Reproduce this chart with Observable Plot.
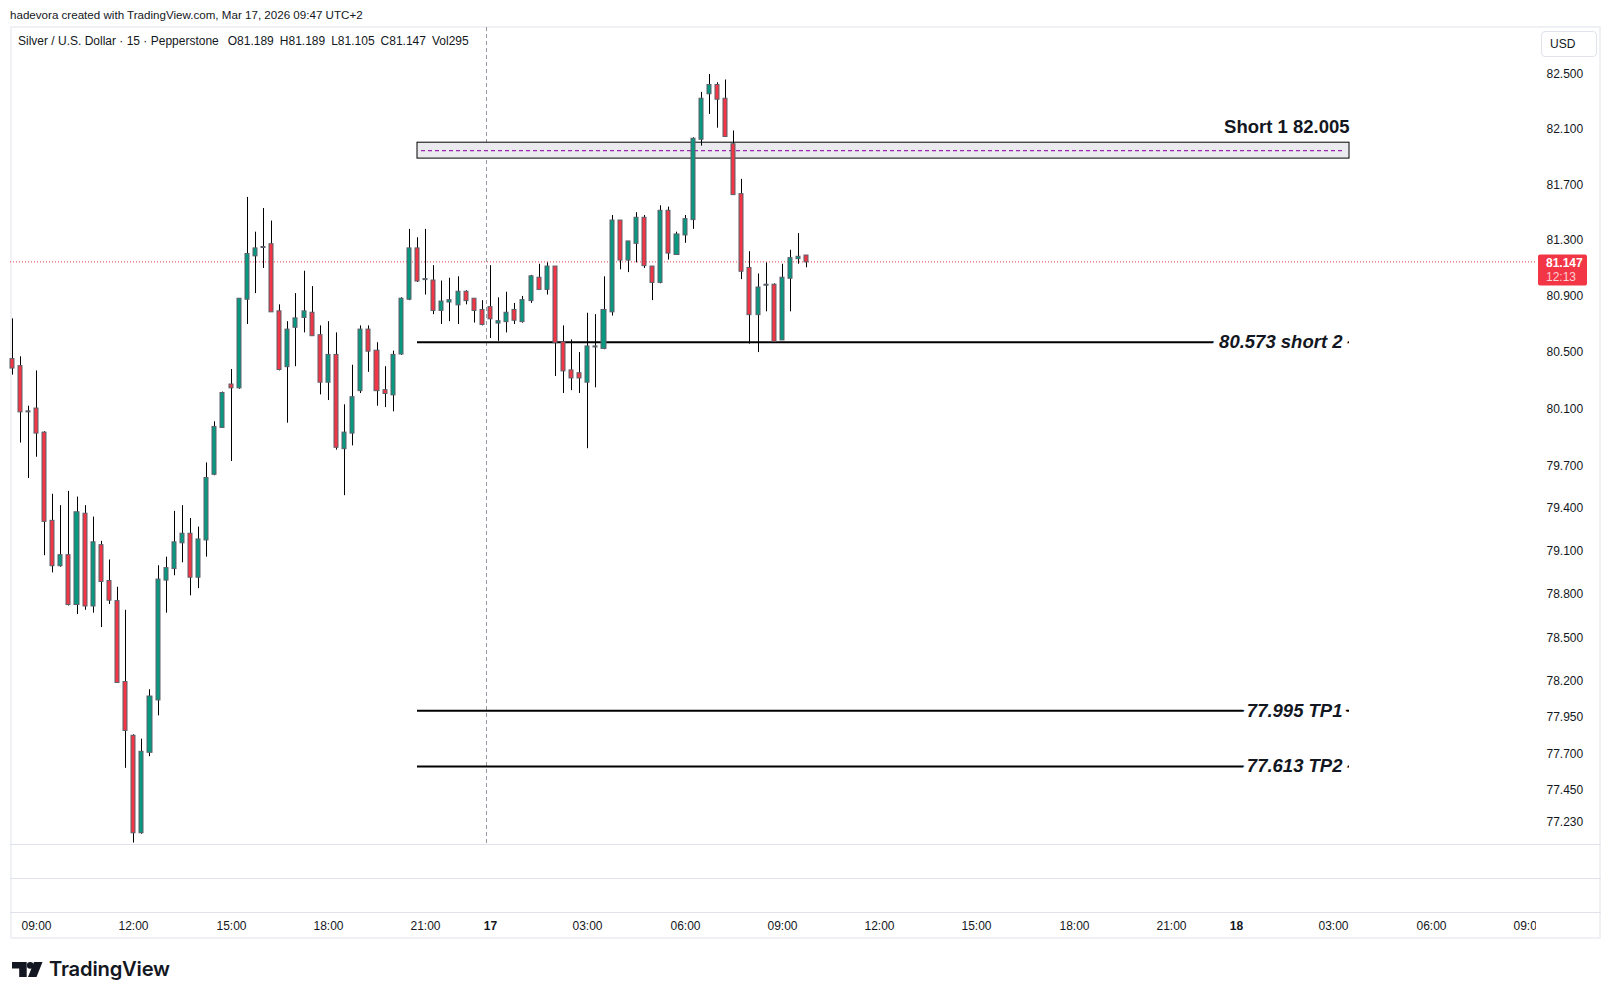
<!DOCTYPE html>
<html>
<head>
<meta charset="utf-8">
<script src="https://cdn.jsdelivr.net/npm/d3@7"></script>
<script src="https://cdn.jsdelivr.net/npm/@observablehq/plot@0.6"></script>
<style>
html,body{margin:0;padding:0;background:#fff;}
#wrap{position:relative;width:1611px;height:1000px;overflow:hidden;font-family:"Liberation Sans",Arial,sans-serif;color:#131722;}
#wrap > svg.plot{position:absolute;left:0;top:0;}
.abs{position:absolute;white-space:nowrap;}
.hl{position:absolute;left:10px;width:1591px;height:1px;background:#e0e3eb;}
</style>
</head>
<body>
<div id="wrap">
  <div class="abs" style="left:10px;top:26px;width:1591px;height:913px;box-sizing:border-box;border:2px solid #eff1f5;"></div>
  <div class="hl" style="top:844px"></div>
  <div class="hl" style="top:878px"></div>
  <div class="hl" style="top:912px"></div>
</div>
<script>
// ---- Data (15-minute candles, Silver / U.S. Dollar, Pepperstone) ----
const opens  = [80.45,80.40,80.08,80.10,79.93,79.31,79.00,79.07,78.73,79.36,78.72,79.14,78.89,78.75,78.19,77.82,77.16,77.71,78.07,78.90,78.98,79.16,79.22,78.92,79.18,79.64,79.97,80.27,80.25,80.88,81.19,81.25,81.27,80.79,80.40,80.68,80.75,80.78,80.62,80.29,80.48,79.82,79.93,80.23,80.66,80.51,80.23,80.20,80.49,80.88,81.24,81.02,81.01,80.80,80.86,80.84,80.93,80.88,80.80,80.82,80.71,80.72,80.80,80.72,80.87,81.03,80.95,81.11,80.57,80.37,80.35,80.29,80.54,80.53,80.79,81.44,81.16,81.28,81.46,81.11,81.00,81.51,81.20,81.34,81.45,82.03,82.36,82.42,82.32,81.99,81.63,81.10,80.77,80.98,80.98,80.59,81.03,81.17,81.189];
const highs  = [80.74,80.47,80.12,80.37,79.94,79.50,79.42,79.52,79.48,79.42,79.34,79.17,79.04,78.85,78.69,77.83,77.80,78.14,79.00,79.06,79.38,79.42,79.33,79.27,79.72,80.01,80.22,80.38,80.88,81.61,81.36,81.53,81.44,80.84,80.72,80.92,81.08,80.97,80.69,80.72,80.64,80.13,80.41,80.69,80.69,80.57,80.40,80.51,80.89,81.38,81.32,81.38,81.12,81.01,81.03,81.04,80.94,80.88,80.87,81.12,80.89,80.93,80.85,80.90,81.05,81.13,81.14,81.11,80.69,80.59,80.50,80.78,80.77,81.04,81.48,81.44,81.29,81.50,81.48,81.11,81.55,81.54,81.36,81.48,82.04,82.37,82.50,82.44,82.46,82.09,81.74,81.22,81.06,81.14,80.99,81.13,81.23,81.35,81.189];
const lows   = [80.34,79.86,79.61,79.76,79.07,78.95,78.99,78.72,78.66,78.69,78.67,78.57,78.73,78.19,77.60,77.09,77.15,77.68,77.96,78.67,78.93,79.02,78.79,78.84,79.06,79.63,79.97,79.73,80.24,80.70,80.92,81.10,80.79,80.37,80.00,80.40,80.64,80.62,80.20,80.16,79.81,79.49,79.84,80.21,80.36,80.12,80.11,80.08,80.48,80.87,81.00,80.91,80.77,80.70,80.72,80.70,80.84,80.71,80.69,80.60,80.58,80.64,80.70,80.71,80.85,80.95,80.91,80.33,80.21,80.23,80.21,79.82,80.25,80.52,80.76,81.09,81.07,81.14,81.10,80.87,80.99,81.16,81.20,81.28,81.38,81.98,82.21,82.11,82.05,81.63,81.02,80.56,80.50,80.79,80.57,80.59,80.79,81.13,81.105];
const closes = [80.39,80.08,80.08,79.93,79.31,79.00,79.07,78.73,79.37,78.72,79.16,78.89,78.76,78.19,77.86,77.16,77.71,78.09,78.90,78.98,79.16,79.22,78.92,79.18,79.61,79.97,80.21,80.25,80.88,81.20,81.24,81.25,80.79,80.38,80.66,80.74,80.79,80.62,80.29,80.48,79.83,79.93,80.18,80.66,80.51,80.23,80.21,80.48,80.88,81.24,81.01,81.02,80.80,80.86,80.87,80.93,80.87,80.80,80.70,80.74,80.72,80.78,80.73,80.87,81.04,80.95,81.11,80.57,80.37,80.32,80.32,80.54,80.54,80.80,81.44,81.16,81.29,81.46,81.12,81.00,81.51,81.21,81.34,81.45,82.03,82.32,82.42,82.32,82.05,81.63,81.08,80.77,80.96,80.98,80.58,81.03,81.17,81.18,81.147];

// time axis: bar index -> label (session gap 23:00-00:00 removed)
const hourTickIndex  = [3,15,27,39,51,71,83,95,107,119,131,143,163,175,187];
const hourTickLabels = ["09:00","12:00","15:00","18:00","21:00","03:00","06:00","09:00","12:00","15:00","18:00","21:00","03:00","06:00","09:00"];
const dayTickIndex   = [59,151];
const dayTickLabels  = ["17","18"];
const sessionBreaks  = [58.5];

// price axis labels
const priceTicks = [82.5,82.1,81.7,81.3,80.9,80.5,80.1,79.7,79.4,79.1,78.8,78.5,78.2,77.95,77.7,77.45,77.23];

// drawings
const drawStart = 50, drawEnd = 165;
const zoneTop = 82.005, zoneBottom = 81.89, zoneMid = 81.948;
const zoneLabel = "Short 1 82.005";
const levelValues = [80.573, 77.995, 77.613];
const levelLabels = ["80.573 short 2", "77.995 TP1", "77.613 TP2"];

const lastPrice = 81.147;
const countdown = "12:13";
const titleText = "hadevora created with TradingView.com, Mar 17, 2026 09:47 UTC+2";
const symbolText = "Silver / U.S. Dollar · 15 · Pepperstone";
const ohlcNames = ["O","H","L","C","Vol"];
const ohlcValues = ["81.189","81.189","81.105","81.147","295"];

// ---- Build ----
const candles = opens.map((o, i) => ({i, open: o, high: highs[i], low: lows[i], close: closes[i]}));
const zone = [{x1: drawStart, x2: drawEnd, y1: zoneBottom, y2: zoneTop}];
const levels = levelValues.map((v, k) => ({value: v, label: levelLabels[k]}));

const GREEN = "#089981", RED = "#f23645";

const chart = Plot.plot({
  width: 1611,
  height: 1000,
  marginTop: 27,
  marginRight: 76,
  marginBottom: 156,
  marginLeft: 10,
  style: {fontFamily: "Liberation Sans, Arial, sans-serif", fontSize: "12px", color: "#131722", background: "transparent", overflow: "visible"},
  x: {type: "linear", domain: [0, 187], range: [11.64, 11.64 + 187 * 8.108], round: true, label: null},
  y: {type: "log", domain: [77.23, 82.5], range: [822, 74], label: null},
  marks: [
    Plot.ruleX(sessionBreaks, {stroke: "#9598a1", strokeDasharray: "4,3", strokeWidth: 1}),
    Plot.ruleY([lastPrice], {stroke: RED, strokeDasharray: "1,2", strokeWidth: 1}),
    Plot.rect(zone, {x1: "x1", x2: "x2", y1: "y1", y2: "y2", fill: "#ebeaee", stroke: "#000", strokeWidth: 1}),
    Plot.ruleY([zoneMid], {x1: () => drawStart, x2: () => drawEnd, stroke: "#9c27b0", strokeDasharray: "4,3", strokeWidth: 1.3, insetLeft: 4, insetRight: 4}),
    Plot.text([zoneLabel], {x: () => drawEnd, y: () => zoneTop, text: d => d, textAnchor: "end", dy: -16, fontWeight: "bold", fontSize: 18.5, fill: "#131722"}),
    Plot.ruleY(levels, {y: "value", x1: () => drawStart, x2: () => drawEnd, stroke: "#000", strokeWidth: 2}),
    Plot.text(levels, {x: () => drawEnd, y: "value", text: "label", textAnchor: "end", dx: -7, fontStyle: "italic", fontWeight: "bold", fontSize: 18.5, fill: "#131722", stroke: "#fff", strokeWidth: 12, paintOrder: "stroke"}),
    Plot.ruleX(candles, {x: "i", y1: "low", y2: "high", stroke: "#000", strokeWidth: 1}),
    Plot.rect(candles, {x1: d => d.i - 0.25, x2: d => d.i + 0.25, y1: "open", y2: "close",
      fill: d => d.close >= d.open ? GREEN : RED, stroke: "#5d606b", strokeWidth: 1, insetTop: -0.5, insetBottom: -0.5}),
    Plot.axisY(priceTicks, {anchor: "right", tickSize: 0, tickPadding: 11, tickFormat: d3.format(".3f"), label: null, fill: "#131722"}),
    Plot.axisX(hourTickIndex, {anchor: "bottom", tickSize: 0, tickPadding: 77, label: null, fill: "#131722",
      tickFormat: d => hourTickLabels[hourTickIndex.indexOf(d)]}),
    Plot.axisX(dayTickIndex, {anchor: "bottom", tickSize: 0, tickPadding: 77, label: null, fill: "#131722", fontWeight: "bold",
      tickFormat: d => dayTickLabels[dayTickIndex.indexOf(d)]})
  ]
});
chart.classList.add("plot");
const wrap = document.getElementById("wrap");
wrap.appendChild(chart);

// last price tag on the price axis, positioned by the y scale
const py = chart.scale("y").apply(lastPrice);
const svg = d3.select(chart);
const tag = svg.append("g").attr("font-family", "Liberation Sans, Arial, sans-serif").attr("font-size", 12).attr("text-anchor", "start");
tag.append("rect").attr("x", 1538).attr("y", py - 7).attr("width", 49).attr("height", 31).attr("rx", 2).attr("fill", RED);
tag.append("text").attr("x", 1546).attr("y", py + 1.5).attr("dy", "0.35em").attr("text-anchor", "start").attr("fill", "#fff").attr("font-weight", "bold").text(lastPrice.toFixed(3));
tag.append("text").attr("x", 1546).attr("y", py + 15.5).attr("dy", "0.35em").attr("text-anchor", "start").attr("fill", "rgba(255,255,255,0.78)").text(countdown);

// overlays: header, legend, currency box, clip of last time label, logo
function addDiv(html, style) {
  const d = document.createElement("div");
  d.className = "abs";
  d.setAttribute("style", style);
  d.innerHTML = html;
  wrap.appendChild(d);
  return d;
}
addDiv(titleText, "left:10px;top:7px;font-size:11.6px;line-height:16px;color:#131722;");
addDiv(symbolText + ohlcNames.map((n, k) => `<span style="margin-left:${k === 0 ? 9 : 6}px">${n}<span style="color:#131722">${ohlcValues[k]}</span></span>`).join(""),
  "left:18px;top:33px;font-size:12px;line-height:16px;color:#131722;");
addDiv("USD", "left:1541px;top:31px;width:56px;height:26px;box-sizing:border-box;border:1px solid #e0e3eb;border-radius:4px;font-size:12px;line-height:24px;padding-left:8px;color:#131722;background:#fff;");
addDiv("", "left:1536px;top:914px;width:62px;height:23px;background:#fff;");
addDiv(`<svg width="31" height="15" viewBox="0 0 31 15"><path d="M0 0H14.7V15H7.2V6.6H0Z" fill="#131722"/><circle cx="18.2" cy="3.4" r="3.3" fill="#131722"/><path d="M22 0H30.5L24.5 15H16Z" fill="#131722"/></svg>`,
  "left:12px;top:962px;width:31px;height:15px;line-height:0;");
addDiv("TradingView", "left:49px;top:957px;font-family:Inter,'Liberation Sans',sans-serif;font-weight:600;font-size:20.2px;line-height:24px;color:#131722;letter-spacing:-0.2px;");
</script>
</body>
</html>
